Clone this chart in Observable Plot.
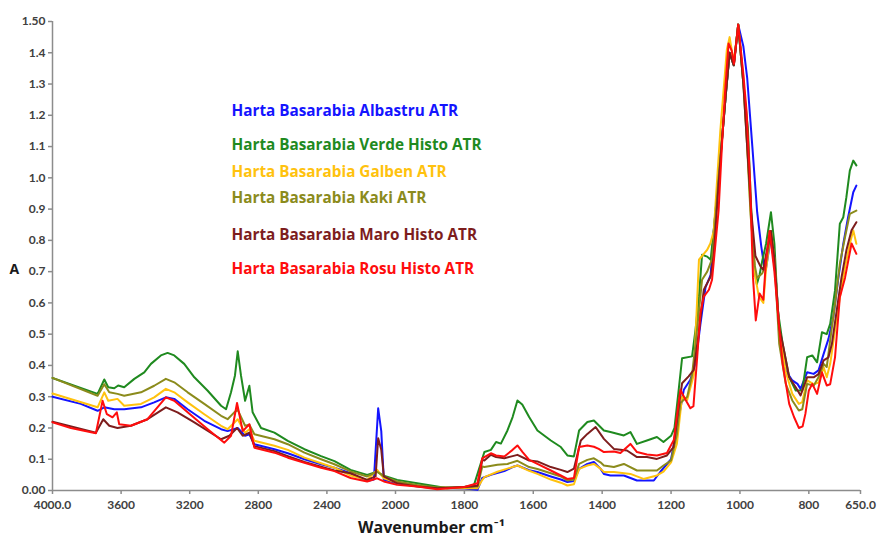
<!DOCTYPE html>
<html><head><meta charset="utf-8">
<script src="https://cdn.jsdelivr.net/npm/d3@7"></script>
<script src="https://cdn.jsdelivr.net/npm/@observablehq/plot@0.6"></script>
<style>body{margin:0;background:#fff}</style>
</head><body><div id="chart"></div>
<script>
const seriesNames = [
  "Harta Basarabia Albastru ATR",
  "Harta Basarabia Verde Histo ATR",
  "Harta Basarabia Galben ATR",
  "Harta Basarabia Kaki ATR",
  "Harta Basarabia Maro Histo ATR",
  "Harta Basarabia Rosu Histo ATR"
];
const seriesColors = ["#1414ff", "#1f8a1f", "#ffc20e", "#8b8b1c", "#7d1d1d", "#ff0d0d"];

// [wavenumber cm-1, absorbance]
const albastru = [[4000,0.300],[3835,0.277],[3737,0.255],[3698,0.266],[3640,0.26],[3582,0.26],[3484,0.266],[3407,0.282],[3339,0.298],[3290,0.293],[3212,0.26],[3115,0.223],[3017,0.196],[2979,0.19],[2920,0.2],[2877,0.175],[2852,0.18],[2823,0.148],[2706,0.132],[2628,0.119],[2531,0.1],[2434,0.084],[2356,0.073],[2262,0.055],[2165,0.03],[2126,0.035],[2101,0.263],[2083,0.19],[2068,0.034],[1995,0.023],[1937,0.015],[1879,0.008],[1800,0.006],[1762,0.002],[1748,0.04],[1723,0.05],[1684,0.062],[1660,0.075],[1646,0.08],[1612,0.065],[1588,0.059],[1549,0.045],[1520,0.035],[1501,0.027],[1482,0.03],[1467,0.069],[1443,0.085],[1424,0.091],[1405,0.07],[1395,0.053],[1376,0.048],[1337,0.048],[1299,0.032],[1250,0.032],[1231,0.06],[1200,0.1],[1183,0.2],[1163,0.322],[1144,0.354],[1129,0.407],[1115,0.53],[1100,0.65],[1085,0.69],[1076,0.83],[1062,1.0],[1050,1.15],[1040,1.28],[1030,1.40],[1018,1.36],[1005,1.49],[990,1.42],[979,1.32],[964,1.10],[950,0.89],[938,0.78],[930,0.72],[925,0.706],[910,0.81],[896,0.68],[886,0.52],[867,0.384],[848,0.352],[833,0.341],[824,0.325],[805,0.378],[786,0.373],[772,0.384],[757,0.437],[743,0.485],[729,0.554],[714,0.682],[700,0.789],[686,0.874],[671,0.954],[662,0.975]];

const verde = [[4000,0.36],[3737,0.309],[3698,0.355],[3675,0.33],[3640,0.327],[3617,0.336],[3582,0.33],[3523,0.357],[3465,0.378],[3426,0.405],[3368,0.432],[3329,0.44],[3290,0.432],[3232,0.405],[3173,0.362],[3095,0.319],[3017,0.271],[2988,0.26],[2959,0.314],[2936,0.368],[2920,0.445],[2901,0.368],[2877,0.287],[2852,0.335],[2833,0.25],[2784,0.2],[2706,0.185],[2628,0.159],[2531,0.132],[2434,0.11],[2356,0.094],[2262,0.066],[2165,0.05],[2107,0.06],[2068,0.047],[1995,0.034],[1937,0.023],[1879,0.013],[1850,0.007],[1800,0.011],[1772,0.018],[1742,0.123],[1723,0.13],[1708,0.155],[1694,0.15],[1675,0.192],[1660,0.235],[1646,0.288],[1632,0.275],[1612,0.235],[1588,0.192],[1549,0.16],[1520,0.139],[1501,0.112],[1482,0.109],[1467,0.192],[1443,0.219],[1424,0.224],[1395,0.192],[1376,0.187],[1337,0.176],[1318,0.187],[1299,0.149],[1270,0.16],[1241,0.171],[1222,0.155],[1200,0.175],[1190,0.2],[1178,0.32],[1168,0.423],[1139,0.429],[1129,0.514],[1119,0.62],[1110,0.754],[1095,0.748],[1085,0.738],[1076,0.834],[1062,1.0],[1050,1.15],[1040,1.28],[1030,1.40],[1018,1.36],[1005,1.49],[990,1.3],[977,1.16],[967,0.89],[957,0.70],[951,0.66],[943,0.69],[935,0.736],[924,0.79],[910,0.89],[900,0.79],[890,0.576],[876,0.469],[857,0.362],[838,0.32],[819,0.32],[805,0.426],[790,0.432],[776,0.41],[762,0.506],[748,0.5],[738,0.533],[724,0.64],[710,0.853],[700,0.874],[691,0.938],[681,1.023],[671,1.055],[662,1.04]];

const galben = [[4000,0.31],[3737,0.266],[3698,0.314],[3675,0.287],[3621,0.293],[3582,0.271],[3484,0.277],[3407,0.298],[3339,0.325],[3290,0.314],[3212,0.282],[3115,0.244],[3017,0.207],[2979,0.196],[2920,0.228],[2877,0.185],[2852,0.196],[2823,0.159],[2706,0.143],[2628,0.13],[2531,0.105],[2434,0.087],[2356,0.073],[2262,0.048],[2165,0.034],[2107,0.066],[2068,0.039],[1995,0.025],[1937,0.015],[1879,0.007],[1800,0.007],[1762,0.007],[1748,0.034],[1742,0.043],[1704,0.06],[1675,0.07],[1646,0.08],[1612,0.063],[1588,0.053],[1549,0.035],[1520,0.025],[1501,0.016],[1482,0.02],[1467,0.069],[1443,0.08],[1424,0.085],[1405,0.07],[1395,0.059],[1366,0.059],[1318,0.053],[1280,0.037],[1241,0.048],[1222,0.06],[1200,0.09],[1183,0.15],[1168,0.3],[1153,0.29],[1134,0.37],[1119,0.738],[1105,0.757],[1095,0.77],[1086,0.79],[1076,0.83],[1057,1.15],[1038,1.41],[1030,1.45],[1018,1.37],[1005,1.49],[990,1.32],[979,1.11],[969,0.895],[955,0.68],[945,0.62],[932,0.6],[925,0.7],[910,0.83],[900,0.74],[886,0.52],[867,0.38],[848,0.309],[829,0.277],[819,0.283],[805,0.352],[786,0.34],[772,0.345],[757,0.394],[748,0.362],[738,0.405],[724,0.512],[710,0.618],[695,0.714],[681,0.789],[671,0.832],[662,0.789]];

const kaki = [[4000,0.36],[3737,0.303],[3698,0.34],[3669,0.314],[3621,0.309],[3582,0.303],[3484,0.314],[3407,0.335],[3339,0.357],[3290,0.346],[3212,0.314],[3115,0.277],[3017,0.239],[2979,0.228],[2940,0.25],[2920,0.258],[2877,0.207],[2852,0.21],[2823,0.18],[2706,0.164],[2628,0.148],[2531,0.121],[2434,0.1],[2356,0.084],[2262,0.061],[2165,0.045],[2107,0.06],[2068,0.045],[1995,0.029],[1937,0.018],[1879,0.01],[1800,0.01],[1762,0.013],[1748,0.077],[1742,0.075],[1704,0.082],[1675,0.085],[1646,0.095],[1612,0.075],[1588,0.069],[1549,0.055],[1520,0.045],[1501,0.032],[1482,0.035],[1467,0.085],[1443,0.098],[1424,0.103],[1405,0.09],[1395,0.08],[1366,0.075],[1337,0.085],[1299,0.064],[1241,0.064],[1222,0.08],[1200,0.096],[1183,0.18],[1173,0.28],[1153,0.3],[1139,0.37],[1124,0.52],[1110,0.674],[1095,0.7],[1081,0.74],[1076,0.8],[1062,1.0],[1050,1.15],[1040,1.28],[1030,1.40],[1018,1.36],[1005,1.49],[990,1.3],[979,1.1],[969,0.88],[957,0.72],[950,0.68],[935,0.695],[925,0.72],[910,0.83],[900,0.74],[886,0.469],[867,0.341],[848,0.288],[829,0.256],[819,0.26],[805,0.341],[786,0.335],[772,0.362],[757,0.405],[748,0.395],[738,0.48],[724,0.597],[710,0.725],[695,0.81],[681,0.885],[662,0.895]];

const maro = [[4000,0.22],[3747,0.185],[3704,0.228],[3669,0.207],[3621,0.2],[3543,0.207],[3446,0.228],[3339,0.266],[3271,0.25],[3173,0.218],[3017,0.164],[2969,0.175],[2924,0.2],[2891,0.175],[2852,0.185],[2823,0.142],[2706,0.126],[2628,0.11],[2531,0.091],[2434,0.076],[2356,0.064],[2262,0.055],[2165,0.034],[2116,0.045],[2101,0.167],[2083,0.13],[2068,0.045],[1995,0.023],[1937,0.013],[1879,0.007],[1800,0.011],[1762,0.015],[1748,0.098],[1742,0.096],[1723,0.114],[1708,0.107],[1684,0.103],[1660,0.11],[1646,0.114],[1612,0.096],[1588,0.093],[1549,0.075],[1520,0.066],[1501,0.059],[1482,0.07],[1462,0.16],[1443,0.181],[1419,0.203],[1395,0.165],[1366,0.133],[1328,0.128],[1299,0.107],[1270,0.107],[1241,0.101],[1212,0.112],[1193,0.139],[1180,0.25],[1168,0.343],[1149,0.365],[1134,0.386],[1120,0.5],[1105,0.642],[1085,0.684],[1076,0.75],[1062,0.98],[1050,1.15],[1040,1.28],[1030,1.40],[1018,1.36],[1005,1.49],[990,1.3],[979,1.1],[967,0.89],[955,0.75],[940,0.716],[932,0.706],[925,0.75],[910,0.83],[900,0.74],[886,0.52],[876,0.47],[857,0.362],[838,0.33],[824,0.304],[805,0.362],[786,0.362],[772,0.372],[757,0.416],[743,0.426],[733,0.469],[719,0.576],[705,0.682],[691,0.768],[676,0.832],[662,0.858]];

const rosu = [[4000,0.218],[3893,0.2],[3747,0.183],[3708,0.287],[3683,0.244],[3650,0.234],[3625,0.25],[3611,0.212],[3543,0.207],[3446,0.228],[3339,0.298],[3290,0.287],[3212,0.25],[3095,0.196],[2998,0.153],[2959,0.175],[2924,0.28],[2891,0.19],[2852,0.212],[2823,0.137],[2706,0.121],[2628,0.105],[2531,0.089],[2434,0.073],[2356,0.062],[2262,0.04],[2165,0.029],[2107,0.039],[2068,0.029],[1995,0.018],[1937,0.013],[1879,0.004],[1800,0.011],[1762,0.023],[1748,0.103],[1742,0.107],[1723,0.119],[1708,0.112],[1684,0.109],[1660,0.13],[1646,0.144],[1631,0.123],[1612,0.098],[1588,0.085],[1549,0.064],[1520,0.048],[1501,0.037],[1482,0.04],[1467,0.139],[1443,0.144],[1424,0.14],[1410,0.133],[1395,0.123],[1366,0.125],[1347,0.12],[1318,0.149],[1299,0.123],[1270,0.115],[1241,0.112],[1212,0.12],[1192,0.162],[1173,0.322],[1158,0.29],[1144,0.263],[1135,0.27],[1124,0.428],[1115,0.567],[1105,0.62],[1090,0.642],[1081,0.674],[1062,0.895],[1052,1.108],[1043,1.279],[1033,1.43],[1024,1.407],[1017,1.365],[1005,1.49],[990,1.33],[981,1.215],[971,1.0],[962,0.68],[954,0.544],[943,0.63],[932,0.61],[925,0.727],[914,0.83],[900,0.70],[886,0.52],[876,0.405],[857,0.277],[843,0.235],[829,0.2],[818,0.205],[810,0.245],[800,0.32],[790,0.341],[776,0.309],[762,0.378],[748,0.336],[738,0.34],[724,0.426],[710,0.618],[695,0.68],[676,0.79],[662,0.757]];

const xTicks = [4000, 3600, 3200, 2800, 2400, 2000, 1800, 1600, 1400, 1200, 1000, 800, 650];
const yTicks = [0, 0.1, 0.2, 0.3, 0.4, 0.5, 0.6, 0.7, 0.8, 0.9, 1.0, 1.1, 1.2, 1.3, 1.4, 1.5];
const xTitle = "Wavenumber cm⁻¹";
const yTitle = "A";

// layout (pixels)
const W = 882, H = 542;
const legendDy = [90, 124, 151, 177, 214, 248];

const allSeries = [albastru, verde, galben, kaki, maro, rosu];
const rows = [];
allSeries.forEach((arr, i) => arr.forEach(([wn, a]) => rows.push({series: seriesNames[i], wn, a})));

const tickFont = "Lato, 'Open Sans', sans-serif";
const textFont = "'Open Sans', Lato, sans-serif";

const chart = Plot.plot({
  width: W,
  height: H,
  marginLeft: 52,
  marginRight: 22,
  marginTop: 21,
  marginBottom: 52,
  style: {fontFamily: tickFont, fontSize: "12px", fontWeight: "bold", color: "#404040", background: "#fff"},
  x: {
    type: "linear",
    domain: [4000, 2000, 650],
    range: [52, 395, 860],
    ticks: xTicks,
    tickFormat: d => (d === 4000 || d === 650) ? d.toFixed(1) : String(d),
    tickSize: 4,
    tickPadding: 6,
    label: null
  },
  y: {
    domain: [0, 1.5],
    ticks: yTicks,
    tickFormat: d => (d === 0 || d === 1.5) ? d.toFixed(2) : d.toFixed(1),
    tickSize: 4,
    tickPadding: 3,
    label: null
  },
  color: {domain: seriesNames, range: seriesColors},
  marks: [
    Plot.ruleY([0], {stroke: "#8c8c8c", strokeWidth: 1.5}),
    Plot.ruleX([4000], {stroke: "#8c8c8c", strokeWidth: 1.5}),
    Plot.line(rows, {x: "wn", y: "a", z: "series", stroke: "series", strokeWidth: 2, strokeLinejoin: "round"}),
    ...seriesNames.map((name, i) => Plot.text([name], {
      text: d => d, frameAnchor: "top-left", textAnchor: "start", lineAnchor: "middle",
      dx: 179, dy: legendDy[i], fill: seriesColors[i], fontSize: 15.3, fontWeight: "bold", fontFamily: textFont
    })),
    Plot.text([yTitle], {text: d => d, frameAnchor: "left", textAnchor: "start", dx: -43, dy: 14,
      fill: "#1a1a1a", fontSize: 14, fontWeight: "bold", fontFamily: textFont}),
    Plot.text([xTitle], {text: d => d, frameAnchor: "bottom", textAnchor: "middle", lineAnchor: "middle", dx: -25, dy: 37,
      fill: "#1a1a1a", fontSize: 16, fontWeight: "bold", fontFamily: textFont})
  ]
});
d3.select(chart).selectAll("[aria-label='x-axis'] line, [aria-label='y-axis'] line, [aria-label='x-axis'] path, [aria-label='y-axis'] path, [aria-label='x-axis tick'] path, [aria-label='y-axis tick'] path")
  .attr("stroke", "#8c8c8c").attr("stroke-width", 1.5);
document.getElementById("chart").appendChild(chart);
</script>
</body></html>
